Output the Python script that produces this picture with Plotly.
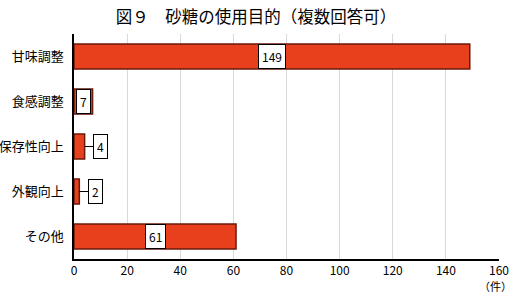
import plotly.graph_objects as go

categories = ["甘味調整", "食感調整", "保存性向上", "外観向上", "その他"]
values = [149, 7, 4, 2, 61]
x_ticks = [0, 20, 40, 60, 80, 100, 120, 140, 160]

FONT = "Noto Sans CJK JP"

fig = go.Figure(go.Bar(
    y=categories, x=values, orientation="h",
    marker=dict(color="#E8401C", line=dict(color="#6B1A0A", width=1.5)),
    width=0.56,
))

annos = []
for c, v in zip(categories, values):
    if v >= 6:
        annos.append(dict(x=v / 2, y=c, xref="x", yref="y", text=str(v), showarrow=False,
                          bgcolor="white", bordercolor="black", borderwidth=1, borderpad=3,
                          font=dict(size=12, color="black", family=FONT)))
    else:
        annos.append(dict(x=v, y=c, xref="x", yref="y", text=str(v), showarrow=True,
                          arrowhead=0, arrowwidth=1, arrowcolor="black", ax=16, ay=0,
                          standoff=0, startstandoff=0,
                          bgcolor="white", bordercolor="black", borderwidth=1, borderpad=3,
                          font=dict(size=12, color="black", family=FONT)))
annos.append(dict(x=1, y=0, xref="paper", yref="paper", xanchor="right", yanchor="bottom",
                  yshift=-36, xshift=14, text="（件）", showarrow=False, borderpad=0,
                  font=dict(size=11, color="black", family=FONT)))

fig.update_layout(
    width=512, height=295,
    margin=dict(l=74, r=13, t=34, b=36),
    paper_bgcolor="white", plot_bgcolor="white",
    title=dict(text="図９　砂糖の使用目的（複数回答可）", x=0.5, xanchor="center",
               y=0.94, yanchor="middle", font=dict(size=16.5, color="black", family=FONT)),
    xaxis=dict(range=[0, 160], tickvals=x_ticks, showgrid=True, gridcolor="#D9D9D9",
               gridwidth=1, showline=True, linecolor="black", linewidth=1.5,
               ticks="", zeroline=False, automargin=False,
               tickfont=dict(size=12, color="black", family=FONT)),
    yaxis=dict(categoryorder="array", categoryarray=categories, autorange="reversed",
               showline=True, linecolor="black", linewidth=1.5, ticks="",
               ticksuffix="  ", automargin=False,
               tickfont=dict(size=13, color="black", family=FONT)),
    annotations=annos,
    showlegend=False,
)

fig.write_html("out.html")
